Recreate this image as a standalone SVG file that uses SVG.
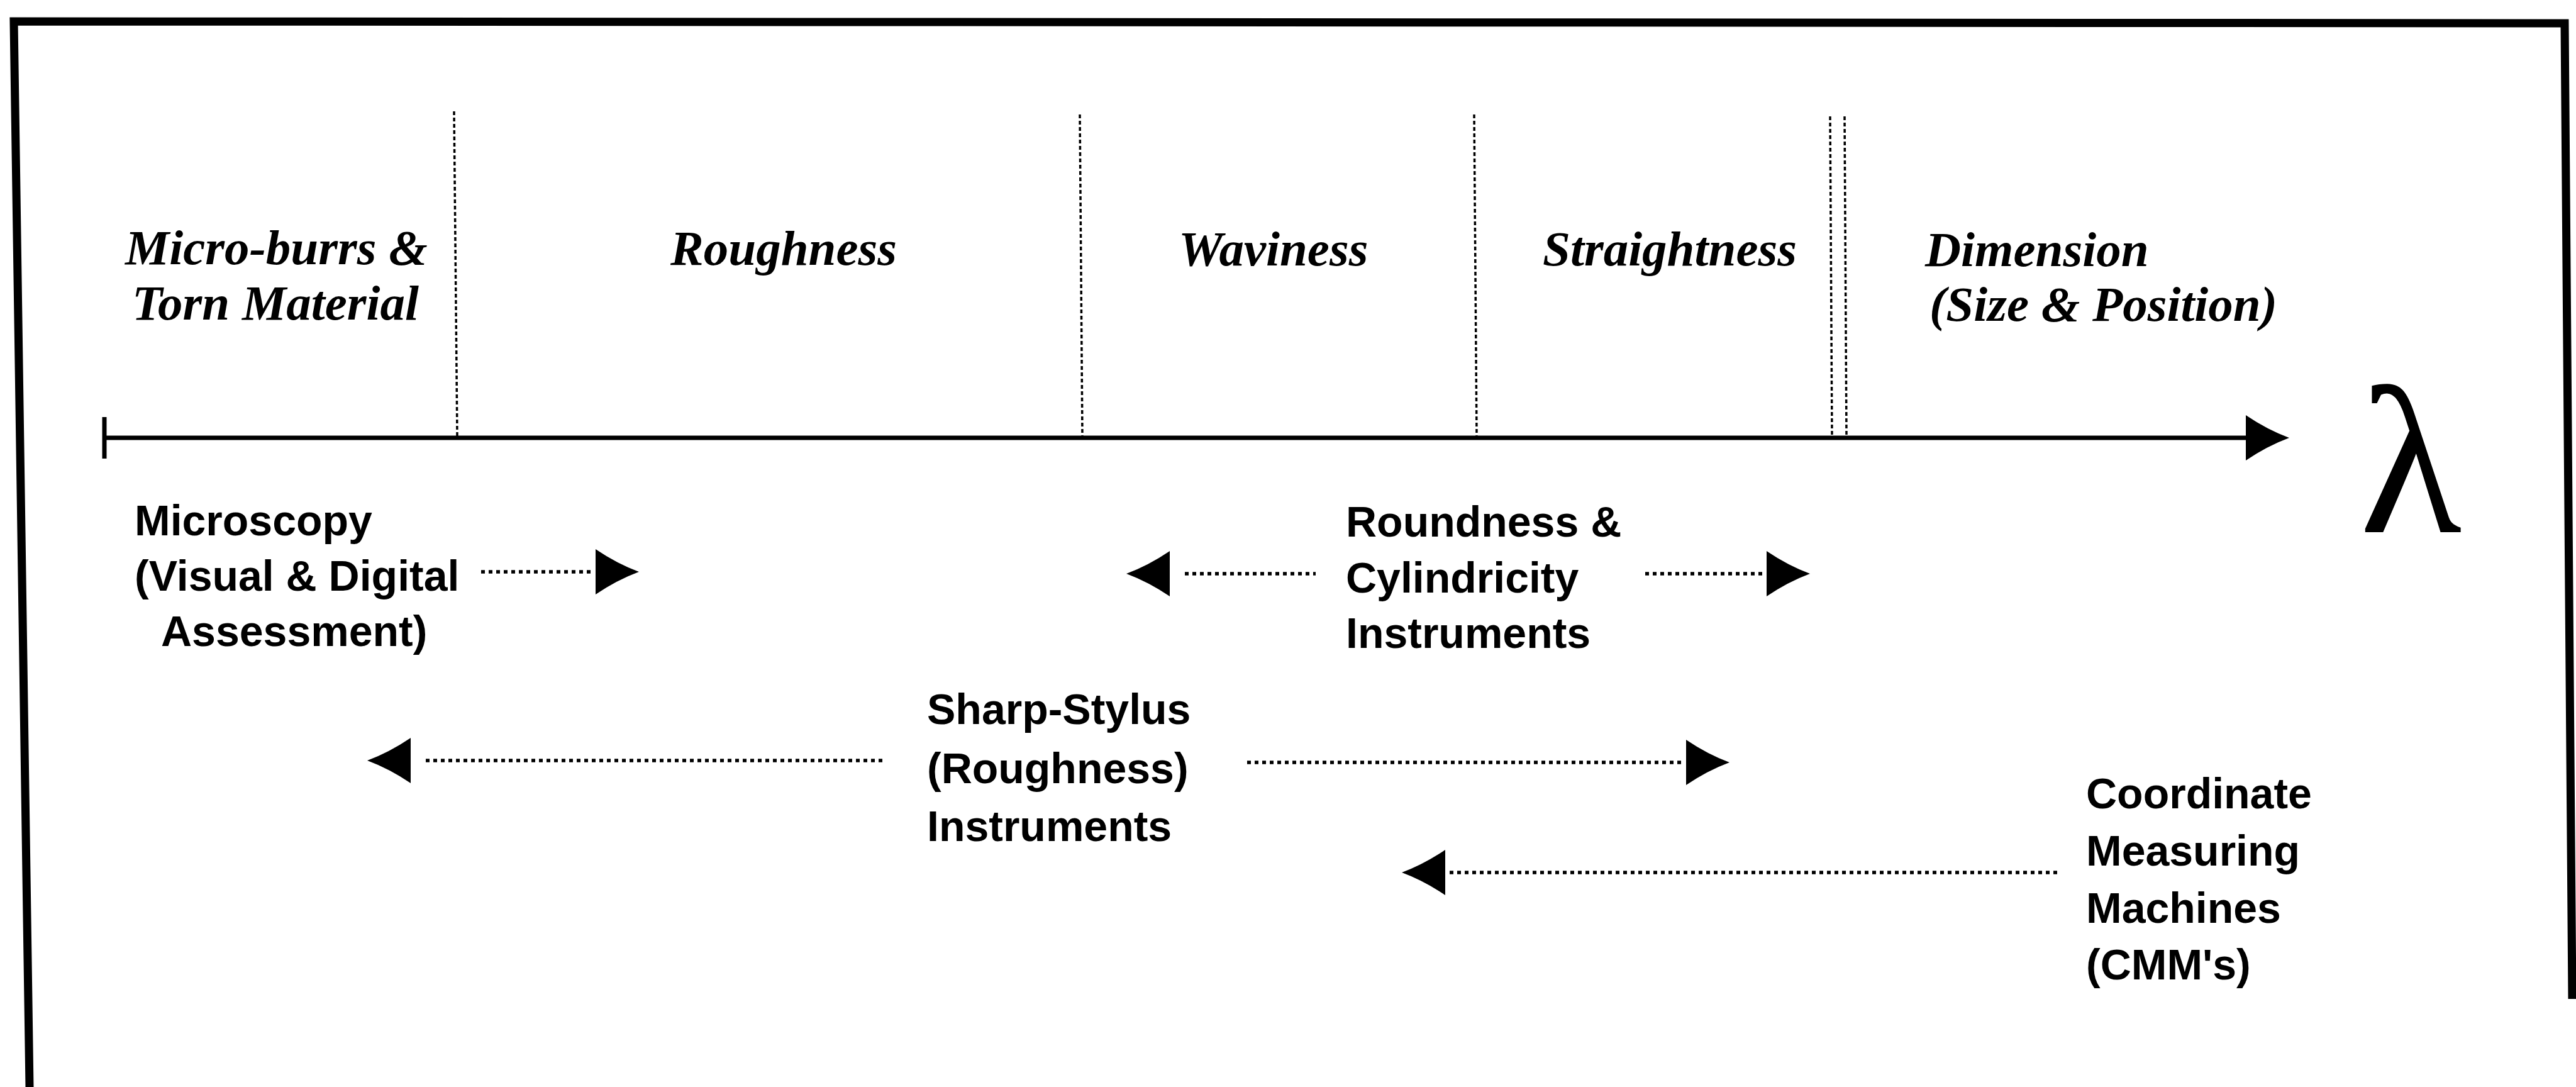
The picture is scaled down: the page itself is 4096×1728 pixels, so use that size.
<svg xmlns="http://www.w3.org/2000/svg" xmlns:xlink="http://www.w3.org/1999/xlink" width="4096" height="1728" viewBox="0 0 4096 1728">
  <style>
    .hdr { font-family: "Liberation Serif", "Times New Roman", serif; font-style: italic; font-weight: bold; font-size: 79px; fill: #000; }
    .lbl { font-family: "Liberation Sans", Arial, sans-serif; font-weight: bold; font-size: 68px; fill: #000; }
    .frame { fill: none; stroke: #000; stroke-width: 13; stroke-linejoin: miter; }
    .vdiv { stroke: #000; stroke-width: 3.5; stroke-dasharray: 6 4; fill: none; }
    .dots { stroke: #000; stroke-width: 5.5; stroke-dasharray: 6 6; fill: none; }
    .axis { stroke: #000; stroke-width: 7; fill: none; }
  </style>
  <defs>
    <path id="ahR" d="M0,-36 Q34,-13 69,0 Q34,13 0,36 Z" fill="#000"/>
    <path id="ahL" d="M0,-36 Q-34,-13 -69,0 Q-34,13 0,36 Z" fill="#000"/>
  </defs>
  <rect width="4096" height="1728" fill="#fff"/>

  <g id="frame">
    <path class="frame" d="M47,1728 L22,34 L4078,37 L4090,1588"/>
  </g>

  <g id="dividers">
    <line class="vdiv" x1="722" y1="177" x2="727" y2="694"/>
    <line class="vdiv" x1="1717" y1="182" x2="1721" y2="694"/>
    <line class="vdiv" x1="2344" y1="182" x2="2348" y2="694"/>
    <line class="vdiv" x1="2910" y1="185" x2="2913" y2="694"/>
    <line class="vdiv" x1="2933" y1="185" x2="2936" y2="694"/>
  </g>

  <g id="axis">
    <line class="axis" x1="166" y1="663" x2="166" y2="729"/>
    <line class="axis" x1="166" y1="696" x2="3575" y2="696"/>
    <use xlink:href="#ahR" href="#ahR" transform="translate(3571,696)"/>
  </g>

  <g id="lambda">
    <text x="3752" y="846" font-family="'Liberation Serif', 'Times New Roman', serif" font-size="335" fill="#000">λ</text>
  </g>

  <g id="band-microburrs">
    <text class="hdr" x="199" y="420">Micro-burrs &amp;</text>
    <text class="hdr" x="210" y="508">Torn Material</text>
  </g>
  <g id="band-roughness">
    <text class="hdr" x="1066" y="421">Roughness</text>
  </g>
  <g id="band-waviness">
    <text class="hdr" x="1874" y="422">Waviness</text>
  </g>
  <g id="band-straightness">
    <text class="hdr" x="2453" y="422">Straightness</text>
  </g>
  <g id="band-dimension">
    <text class="hdr" x="3061" y="423">Dimension</text>
    <text class="hdr" x="3068" y="510">(Size &amp; Position)</text>
  </g>

  <g id="node-microscopy">
    <text class="lbl" x="214" y="851">Microscopy</text>
    <text class="lbl" x="214" y="939">(Visual &amp; Digital</text>
    <text class="lbl" x="256" y="1027">Assessment)</text>
  </g>
  <g id="node-roundness">
    <text class="lbl" x="2140" y="853">Roundness &amp;</text>
    <text class="lbl" x="2140" y="942">Cylindricity</text>
    <text class="lbl" x="2140" y="1030">Instruments</text>
  </g>
  <g id="node-stylus">
    <text class="lbl" x="1474" y="1151">Sharp-Stylus</text>
    <text class="lbl" x="1474" y="1245">(Roughness)</text>
    <text class="lbl" x="1474" y="1337">Instruments</text>
  </g>
  <g id="node-cmm">
    <text class="lbl" x="3317" y="1285">Coordinate</text>
    <text class="lbl" x="3317" y="1376">Measuring</text>
    <text class="lbl" x="3317" y="1467">Machines</text>
    <text class="lbl" x="3317" y="1557">(CMM's)</text>
  </g>

  <g id="connectors">
    <line class="dots" x1="765" y1="909" x2="943" y2="909"/>
    <use xlink:href="#ahR" href="#ahR" transform="translate(947,909)"/>

    <line class="dots" x1="1884" y1="912" x2="2092" y2="912"/>
    <use xlink:href="#ahL" href="#ahL" transform="translate(1860,912)"/>

    <line class="dots" x1="2616" y1="912" x2="2805" y2="912"/>
    <use xlink:href="#ahR" href="#ahR" transform="translate(2809,912)"/>

    <line class="dots" x1="677" y1="1209" x2="1404" y2="1209"/>
    <use xlink:href="#ahL" href="#ahL" transform="translate(653,1209)"/>

    <line class="dots" x1="1983" y1="1212" x2="2678" y2="1212"/>
    <use xlink:href="#ahR" href="#ahR" transform="translate(2681,1212)"/>

    <line class="dots" x1="2305" y1="1387" x2="3274" y2="1387"/>
    <use xlink:href="#ahL" href="#ahL" transform="translate(2298,1387)"/>
  </g>
</svg>
